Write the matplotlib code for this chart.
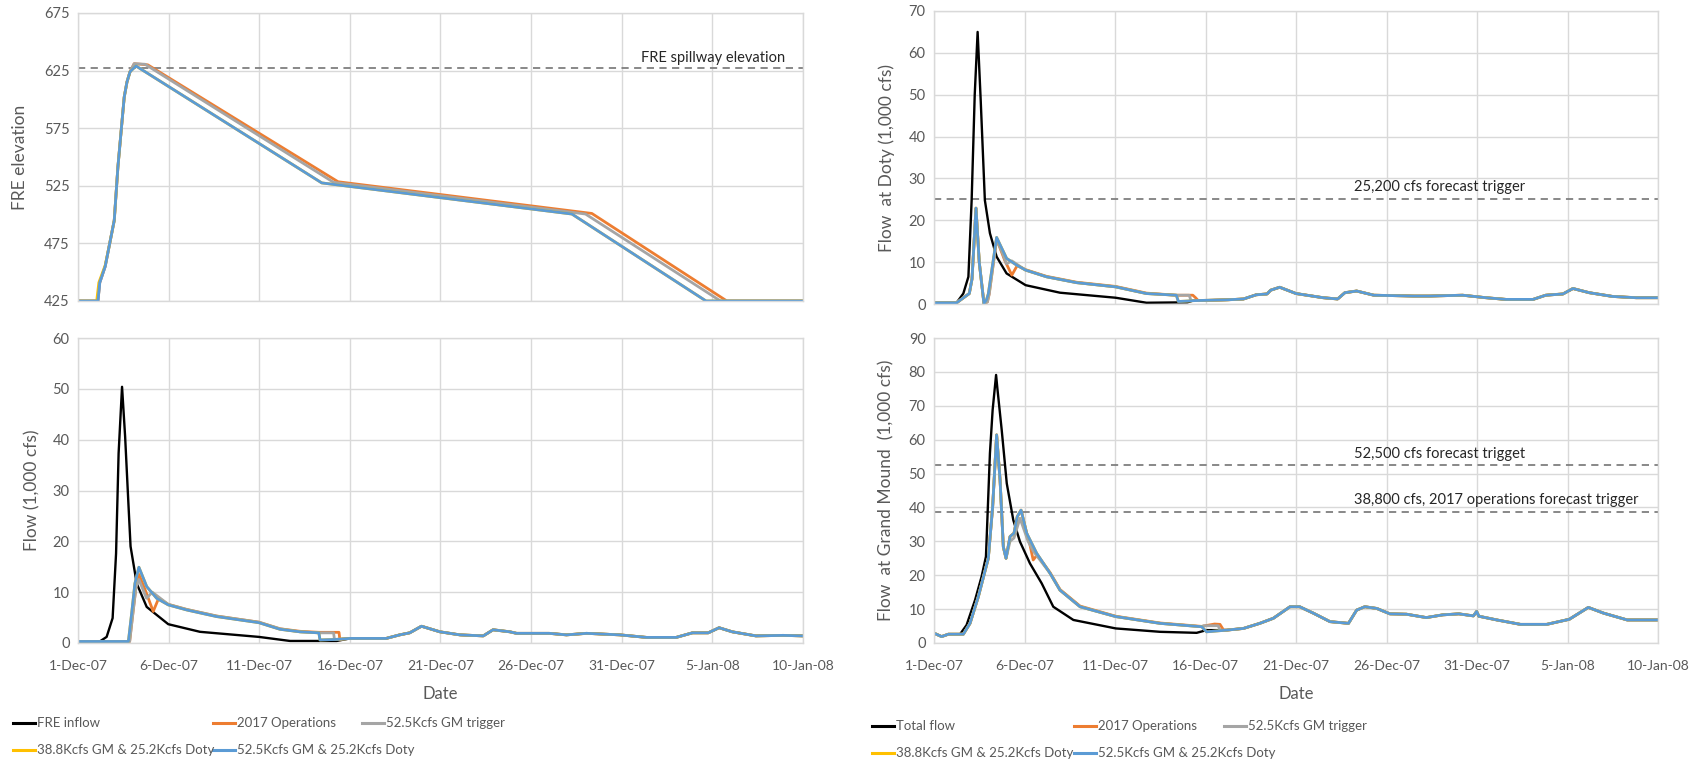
import pandas as pd
import numpy as np
import matplotlib
matplotlib.use("Agg")
import matplotlib.pyplot as plt
from matplotlib.lines import Line2D

plt.rcParams["font.family"] = ["Lato", "DejaVu Sans"]

# Start date; all x values below are days after 1-Dec-07
start = pd.Timestamp("2007-12-01")

# ---------------- FRE elevation (top left) ----------------
elev_blue_days = [0, 1.1, 1.2, 1.5, 1.75, 2.0, 2.2, 2.4, 2.55, 2.7, 2.87, 3.2, 13.45, 27.25, 34.65, 40]
elev_blue = [425, 425, 441, 455, 475, 495, 541, 576, 602, 615, 624, 629, 527.5, 500.5, 425, 425]
elev_yellow_days = [0, 1.03, 1.15, 1.5, 1.75, 2.0, 2.2, 2.4, 2.55, 2.7, 2.87, 3.2, 13.45, 27.25, 34.65, 40]
elev_yellow = [425, 425, 441, 456, 475, 495, 541, 576, 602, 615, 624, 629, 527.5, 500.5, 425, 425]
elev_orange_days = [0, 1.1, 1.2, 1.5, 1.75, 2.0, 2.2, 2.4, 2.55, 2.7, 2.87, 3.1, 3.85, 14.35, 28.35, 35.8, 40]
elev_orange = [425, 425, 441, 455, 475, 495, 541, 576, 602, 615, 624, 631, 630, 528.5, 501, 425, 425]
elev_gray_days = [0, 1.1, 1.2, 1.5, 1.75, 2.0, 2.2, 2.4, 2.55, 2.7, 2.87, 3.1, 3.7, 14.1, 28.0, 35.45, 40]
elev_gray = [425, 425, 441, 455, 475, 495, 541, 576, 602, 615, 624, 631, 630.5, 528, 500.5, 425, 425]
spillway = 627

# ---------------- FRE outflow (bottom left) ----------------
fre_tail_days = [15.0, 17.0, 17.75, 18.3, 18.95, 19.97, 21.07, 22.36, 22.9, 23.83, 24.2, 26.0,
                 26.95, 28.06, 29.9, 31.37, 33.0, 33.9, 34.77, 35.37, 36.1, 37.4, 38.9, 40]
fre_tail = [0.9, 0.9, 1.6, 2.0, 3.3, 2.2, 1.6, 1.4, 2.6, 2.2, 1.9, 1.9,
            1.6, 1.9, 1.6, 1.1, 1.1, 2.0, 2.0, 3.0, 2.2, 1.4, 1.5, 1.4]
fre_black_days = [0, 1.2, 1.58, 1.91, 2.1, 2.24, 2.43, 2.6, 2.78, 2.9, 3.24, 3.79, 4.98, 6.73, 9.98, 11.7, 14.27]
fre_black = [0.3, 0.3, 1.2, 4.9, 17.6, 37.3, 50.4, 40.6, 27.5, 19, 11.7, 7.1, 3.7, 2.2, 1.2, 0.4, 0.4]
fre_blue_days = [0, 2.78, 2.96, 3.14, 3.36, 3.79, 4.34, 4.98, 6.0, 7.65, 9.98, 11.14, 12.25, 13.29, 13.35, 14.27]
fre_blue = [0.3, 0.3, 5.8, 11.7, 14.9, 11.1, 8.8, 7.5, 6.5, 5.2, 4.0, 2.7, 2.2, 2.0, 0.6, 0.7]
fre_orange_days = [0, 2.85, 3.0, 3.2, 3.36, 3.7, 4.15, 4.45, 4.98, 6.0, 7.65, 9.98, 11.14, 12.25, 13.29, 14.4, 14.45, 14.6]
fre_orange = [0.3, 0.3, 5, 11, 13.5, 10.5, 6.2, 8.8, 7.6, 6.6, 5.3, 4.1, 2.8, 2.3, 2.1, 2.1, 0.6, 0.8]
fre_gray_days = [0, 2.85, 3.0, 3.2, 3.36, 3.78, 4.1, 4.98, 6.0, 7.65, 9.98, 11.14, 12.25, 13.29, 14.1, 14.15]
fre_gray = [0.3, 0.3, 5, 11, 12.5, 8.8, 10, 7.6, 6.6, 5.3, 4.1, 2.8, 2.2, 2.0, 2.0, 0.7]

# ---------------- Flow at Doty (top right) ----------------
doty_tail_days = [14.3, 16.2, 17.1, 17.8, 18.4, 18.6, 19.1, 20.0, 21.5, 22.3, 22.7, 23.35, 24.3, 26.5,
                  27.4, 29.2, 30.5, 31.6, 33.1, 33.8, 34.75, 35.3, 36.2, 37.5, 38.8, 40]
doty_tail = [0.8, 1.0, 1.2, 2.2, 2.4, 3.3, 4.0, 2.5, 1.5, 1.2, 2.7, 3.1, 2.1, 1.9,
             1.9, 2.1, 1.5, 1.1, 1.1, 2.1, 2.4, 3.7, 2.7, 1.8, 1.5, 1.5]
doty_black_days = [0, 1.25, 1.62, 1.9, 2.08, 2.25, 2.41, 2.58, 2.81, 3.09, 3.46, 4.01, 5.06, 6.96, 10.03, 11.74, 14.0]
doty_black = [0.3, 0.3, 2.5, 6.5, 24.8, 50, 65, 48.7, 24.8, 16.9, 11.3, 7.3, 4.5, 2.7, 1.5, 0.3, 0.4]
doty_blue_days = [0, 1.25, 1.95, 2.1, 2.32, 2.5, 2.76, 2.9, 3.0, 3.46, 4.01, 4.56, 5.06, 6.22, 7.88,
                  10.03, 11.74, 13.39, 13.5, 14.0]
doty_blue = [0.3, 0.3, 2.5, 6, 22.9, 10, 0.1, 1, 2.4, 15.9, 10.9, 9.3, 8.1, 6.5, 5.1,
             4.1, 2.5, 2.1, 0.6, 0.7]
doty_orange_days = [0, 1.25, 1.95, 2.1, 2.32, 2.5, 2.76, 2.95, 3.05, 3.46, 3.9, 4.3, 4.6, 5.06, 6.22,
                    7.88, 10.03, 11.74, 13.39, 14.3, 14.45, 14.6]
doty_orange = [0.3, 0.3, 2.5, 6, 22.9, 10, 0.1, 0.5, 2.4, 15.5, 10.5, 6.9, 9.2, 8.2, 6.6,
               5.2, 4.2, 2.6, 2.1, 2.1, 1.5, 0.8]
doty_gray_days = [0, 1.25, 1.95, 2.1, 2.32, 2.5, 2.76, 2.95, 3.05, 3.46, 3.8, 4.0, 4.3, 5.06, 6.22,
                  7.88, 10.03, 11.74, 13.39, 14.1, 14.2]
doty_gray = [0.3, 0.3, 2.5, 6, 22.9, 10, 0.1, 0.5, 2.4, 15.5, 12, 9.6, 10.3, 8.1, 6.5,
             5.1, 4.1, 2.5, 2.1, 2.1, 0.8]
doty_trigger = 25.2

# ---------------- Flow at Grand Mound (bottom right) ----------------
gm_tail_days = [16.17, 17.1, 18.0, 18.75, 19.67, 20.2, 20.96, 21.88, 22.9, 23.35, 23.8, 24.46, 25.19,
                26.1, 27.2, 28.1, 29.0, 29.8, 29.98, 30.1, 31.1, 32.4, 33.85, 35.1, 36.15, 37.0, 38.3, 40]
gm_tail = [3.8, 4.3, 5.8, 7.3, 10.7, 10.7, 8.8, 6.3, 5.8, 9.7, 10.7, 10.2, 8.6,
           8.5, 7.5, 8.3, 8.6, 8.0, 9.3, 7.9, 6.8, 5.5, 5.5, 7.0, 10.5, 8.8, 6.8, 6.8]
gm_black_days = [0, 0.42, 0.8, 1.44, 1.8, 2.27, 2.63, 2.87, 3.09, 3.24, 3.43, 3.5, 3.74, 4.02, 4.38,
                 4.75, 5.3, 5.95, 6.59, 7.7, 10.04, 12.49, 14.51, 15.06]
gm_black = [2.9, 1.9, 2.6, 2.6, 5.3, 12.7, 19.6, 25.5, 56, 68.8, 79.1, 75.2, 62.9, 47.1, 36.3,
            29.9, 23.5, 17.6, 10.7, 6.8, 4.3, 3.3, 3.0, 3.8]
gm_blue_days = [0, 0.42, 0.8, 1.62, 1.99, 2.45, 3.0, 3.24, 3.46, 3.65, 3.83, 3.98, 4.2, 4.42, 4.6,
                4.81, 5.12, 5.67, 6.41, 6.96, 8.07, 10.04, 12.49, 14.79, 15.06]
gm_blue = [2.9, 1.9, 2.6, 2.6, 5.8, 13.7, 25, 40.2, 61.4, 48.1, 28.4, 25.0, 31.4, 32.4, 37.3,
           39.2, 32.4, 26.5, 20.6, 15.6, 10.7, 7.8, 5.8, 4.8, 3.3]
gm_orange_days = [0, 0.42, 0.8, 1.62, 1.99, 2.45, 3.0, 3.24, 3.46, 3.65, 3.83, 3.98, 4.2, 4.42, 4.6,
                  4.81, 5.12, 5.3, 5.48, 5.7, 6.41, 6.96, 8.07, 10.04, 12.49, 14.79, 15.5, 15.8, 16.0]
gm_orange = [2.9, 1.9, 2.6, 2.6, 5.8, 13.7, 25, 40.2, 61.4, 48.1, 28.4, 25.0, 31.4, 32.4, 37.3,
             39.2, 32.4, 29, 24.5, 26, 20.8, 15.8, 10.9, 7.9, 5.9, 4.9, 5.6, 5.5, 3.8]
gm_gray_days = [0, 0.42, 0.8, 1.62, 1.99, 2.45, 3.0, 3.24, 3.46, 3.65, 3.83, 3.98, 4.2, 4.42, 4.75,
                5.2, 5.5, 6.41, 6.96, 8.07, 10.04, 12.49, 14.79, 14.9, 15.7, 15.8]
gm_gray = [2.9, 1.9, 2.6, 2.6, 5.8, 13.7, 25, 40.2, 61.4, 48.1, 28.4, 25.0, 30, 31, 36.8,
           30, 27, 20.6, 15.6, 10.7, 7.8, 5.8, 4.8, 5.1, 5.1, 3.8]
gm_trigger_high = 52.5
gm_trigger_low = 38.8

# Legend labels
left_labels = ["FRE inflow", "2017 Operations", "52.5Kcfs GM trigger",
               "38.8Kcfs GM & 25.2Kcfs Doty", "52.5Kcfs GM & 25.2Kcfs Doty"]
right_labels = ["Total flow", "2017 Operations", "52.5Kcfs GM trigger",
                "38.8Kcfs GM & 25.2Kcfs Doty", "52.5Kcfs GM & 25.2Kcfs Doty"]
colors = ["#000000", "#ED7D31", "#A5A5A5", "#FFC000", "#5B9BD5"]

tick_days = [0, 5, 10, 15, 20, 25, 30, 35, 40]
tick_labels = ["1-Dec-07", "6-Dec-07", "11-Dec-07", "16-Dec-07", "21-Dec-07",
               "26-Dec-07", "31-Dec-07", "5-Jan-08", "10-Jan-08"]


def to_dates(days):
    return start + pd.to_timedelta(np.asarray(days, dtype=float), unit="D")


def join(head_d, head_v, tail_d, tail_v):
    d = list(head_d) + [t for t in tail_d if t > head_d[-1]]
    v = list(head_v) + [val for t, val in zip(tail_d, tail_v) if t > head_d[-1]]
    return d, v


def style_axes(ax, ymin, ymax, ystep, show_x):
    ax.set_xlim(to_dates([0])[0], to_dates([40])[0])
    ax.set_ylim(ymin, ymax)
    ax.set_yticks(np.arange(ymin, ymax + 0.1, ystep))
    ax.set_xticks(to_dates(tick_days))
    ax.grid(True, color="#d9d9d9", linewidth=1.0)
    ax.set_axisbelow(True)
    for s in ax.spines.values():
        s.set_color("#d9d9d9")
        s.set_linewidth(1.0)
    ax.tick_params(length=0, labelsize=10.5, labelcolor="#595959", pad=6)
    if show_x:
        ax.set_xticklabels(tick_labels, fontsize=10)
        ax.tick_params(axis="x", pad=12)
        ax.set_xlabel("Date", fontsize=12, color="#595959", labelpad=10)
    else:
        ax.set_xticklabels([])


fig = plt.figure(figsize=(17.07, 7.67), dpi=100)
W, H = 1707.0, 767.0

ax_tl = fig.add_axes([78 / W, 1 - 301 / H, 725 / W, 288 / H])
ax_bl = fig.add_axes([78 / W, 1 - 643 / H, 725 / W, 305 / H])
ax_tr = fig.add_axes([934 / W, 1 - 304 / H, 724 / W, 293 / H])
ax_br = fig.add_axes([934 / W, 1 - 643 / H, 724 / W, 305 / H])

dash = (0, (4, 3))

# top left
ax_tl.axhline(spillway, color="#7f7f7f", linestyle=dash, linewidth=1.3)
ax_tl.plot(to_dates(elev_orange_days), elev_orange, color=colors[1], lw=2.0)
ax_tl.plot(to_dates(elev_gray_days), elev_gray, color=colors[2], lw=2.0)
ax_tl.plot(to_dates(elev_yellow_days), elev_yellow, color=colors[3], lw=2.0)
ax_tl.plot(to_dates(elev_blue_days), elev_blue, color=colors[4], lw=2.0)
style_axes(ax_tl, 425, 675, 50, False)
ax_tl.set_ylabel("FRE elevation", fontsize=12.5, color="#595959")
ax_tl.yaxis.set_label_coords(-0.069, 0.5)
ax_tl.text(0.975, spillway + 2.5, "FRE spillway elevation", transform=ax_tl.get_yaxis_transform(),
           ha="right", va="bottom", fontsize=10.5, color="#262626")

# bottom left
series_bl = [(fre_black_days, fre_black), (fre_orange_days, fre_orange),
             (fre_gray_days, fre_gray), (fre_blue_days, fre_blue), (fre_blue_days, fre_blue)]
for i, (d, v) in enumerate(series_bl):
    d2, v2 = join(d, v, fre_tail_days, fre_tail)
    ax_bl.plot(to_dates(d2), v2, color=colors[i], lw=1.7 if i == 0 else 2.0)
style_axes(ax_bl, 0, 60, 10, True)
ax_bl.set_ylabel("Flow (1,000 cfs)", fontsize=12.5, color="#595959")
ax_bl.yaxis.set_label_coords(-0.052, 0.5)

# top right
ax_tr.axhline(doty_trigger, color="#7f7f7f", linestyle=dash, linewidth=1.3)
series_tr = [(doty_black_days, doty_black), (doty_orange_days, doty_orange),
             (doty_gray_days, doty_gray), (doty_blue_days, doty_blue), (doty_blue_days, doty_blue)]
for i, (d, v) in enumerate(series_tr):
    d2, v2 = join(d, v, doty_tail_days, doty_tail)
    ax_tr.plot(to_dates(d2), v2, color=colors[i], lw=1.7 if i == 0 else 2.0)
style_axes(ax_tr, 0, 70, 10, False)
ax_tr.set_ylabel("Flow  at Doty (1,000 cfs)", fontsize=12.5, color="#595959")
ax_tr.yaxis.set_label_coords(-0.054, 0.5)
ax_tr.text(to_dates([23.2])[0], doty_trigger + 1.0, "25,200 cfs forecast trigger",
           ha="left", va="bottom", fontsize=10.5, color="#262626")

# bottom right
ax_br.axhline(gm_trigger_high, color="#7f7f7f", linestyle=dash, linewidth=1.3)
ax_br.axhline(gm_trigger_low, color="#7f7f7f", linestyle=dash, linewidth=1.3)
series_br = [(gm_black_days, gm_black), (gm_orange_days, gm_orange),
             (gm_gray_days, gm_gray), (gm_blue_days, gm_blue), (gm_blue_days, gm_blue)]
for i, (d, v) in enumerate(series_br):
    d2, v2 = join(d, v, gm_tail_days, gm_tail)
    ax_br.plot(to_dates(d2), v2, color=colors[i], lw=1.7 if i == 0 else 2.0)
style_axes(ax_br, 0, 90, 10, True)
ax_br.set_ylabel("Flow  at Grand Mound  (1,000 cfs)", fontsize=12.5, color="#595959")
ax_br.yaxis.set_label_coords(-0.054, 0.5)
ax_br.text(to_dates([23.2])[0], gm_trigger_high + 1.3, "52,500 cfs forecast trigget",
           ha="left", va="bottom", fontsize=10.5, color="#262626")
ax_br.text(to_dates([23.2])[0], gm_trigger_low + 1.3, "38,800 cfs, 2017 operations forecast trigger",
           ha="left", va="bottom", fontsize=10.5, color="#262626")


# legends below each column, laid out like Excel's 3-column legend
def draw_legend(labels, x_cols, y_rows):
    slots = [(0, 0), (1, 0), (2, 0), (0, 1), (1, 1)]
    for lab, col, (ci, ri) in zip(labels, colors, slots):
        x0 = x_cols[ci]
        y = y_rows[ri]
        fig.add_artist(Line2D([x0 / W, (x0 + 22) / W], [1 - y / H, 1 - y / H],
                              color=col, lw=2.2, transform=fig.transFigure))
        fig.text((x0 + 24) / W, 1 - y / H, lab, ha="left", va="center",
                 color="#595959", fontsize=9.5)


draw_legend(left_labels, [13, 213, 362], [723, 750])
draw_legend(right_labels, [872, 1074, 1224], [726, 753])

fig.savefig("out.png", dpi=100)
